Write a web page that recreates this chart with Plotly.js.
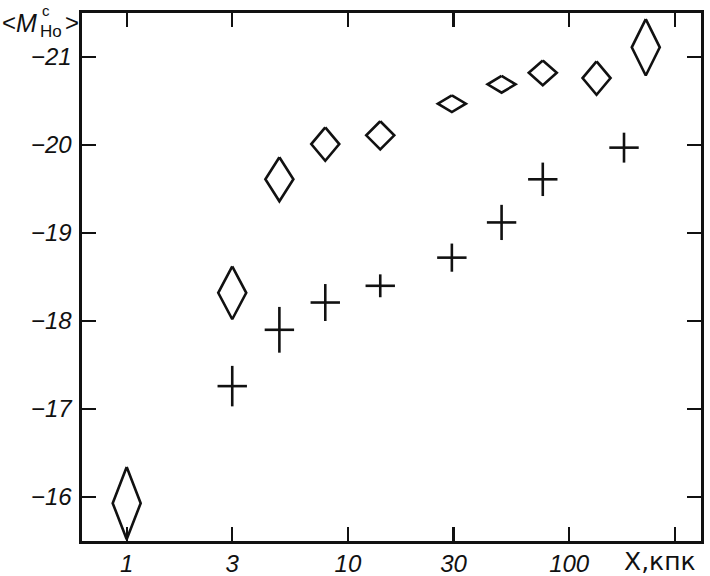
<!DOCTYPE html>
<html>
<head>
<meta charset="utf-8">
<script src="https://cdn.plot.ly/plotly-3.0.1.min.js"></script>
<style>
  html, body { margin: 0; padding: 0; background: #ffffff; }
  #chart { width: 710px; height: 576px; }
</style>
</head>
<body>
<div id="chart"></div>
<script>
// ---- data ----
const diamondX   = [1, 3, 4.9, 7.9, 14, 29.5, 49.5, 76, 133, 222];
const diamondY   = [-15.93, -18.32, -19.61, -20.01, -20.11, -20.47, -20.69, -20.82, -20.76, -21.11];
const diamondErr = [0.41, 0.30, 0.25, 0.19, 0.16, 0.095, 0.096, 0.14, 0.19, 0.32];

const crossX   = [3, 4.9, 7.9, 14, 29.5, 49.5, 76, 177];
const crossY   = [-17.26, -17.90, -18.21, -18.40, -18.72, -19.12, -19.61, -19.97];
const crossErr = [0.23, 0.26, 0.21, 0.13, 0.16, 0.20, 0.19, 0.17];

const xTickVals = [1, 3, 10, 30, 100, 300];
const xTickText = ['<i>1</i>', '<i>3</i>', '<i>10</i>', '<i>30</i>', '<i>100</i>', ''];
const yTickVals = [-21, -20, -19, -18, -17, -16];
const yTickText = ['<i>\u221221</i>', '<i>\u221220</i>', '<i>\u221219</i>', '<i>\u221218</i>', '<i>\u221217</i>', '<i>\u221216</i>'];

// ---- layout geometry ----
const W = 710, H = 576;
const M = {l: 82, r: 9, t: 13, b: 35};
const xRange = [-0.202, 2.596];
const yRange = [-15.5, -21.5];
const plotW = W - M.l - M.r;
const pxPerDecade = plotW / (xRange[1] - xRange[0]);
const diamondHalfPx = 14;
const wDec = diamondHalfPx / pxPerDecade;

// diamond outlines built from the data arrays
const dX = [], dY = [];
diamondX.forEach((x, i) => {
  const y = diamondY[i], e = diamondErr[i];
  const xr = x * Math.pow(10, wDec), xl = x * Math.pow(10, -wDec);
  dX.push(x, xr, x, xl, x, null);
  dY.push(y - e, y, y + e, y, y - e, null);
});

const ink = '#111111';
const FONT = 'Liberation Sans, Arial, sans-serif';

const traces = [
  {
    type: 'scatter', mode: 'lines', x: dX, y: dY,
    line: {color: ink, width: 2.6}, connectgaps: false,
    hoverinfo: 'skip', showlegend: false
  },
  {
    type: 'scatter', mode: 'markers', x: crossX, y: crossY,
    marker: {symbol: 'line-ew', size: 21, color: ink, line: {color: ink, width: 2.6}},
    error_y: {type: 'data', array: crossErr, visible: true, width: 0, thickness: 2.6, color: ink},
    showlegend: false
  }
];

function px2paper(px, py) {
  return {x: (px - M.l) / plotW, y: (H - M.b - py) / (H - M.t - M.b)};
}
function ann(text, px, py, size, family) {
  const p = px2paper(px, py);
  return {
    text: text, xref: 'paper', yref: 'paper', x: p.x, y: p.y,
    xanchor: 'center', yanchor: 'middle', showarrow: false, borderpad: 0,
    font: {family: family || FONT, size: size, color: ink}
  };
}

const annotations = [
  ann('&lt;', 9, 22, 24),
  ann('<i>M</i>', 26, 23, 25),
  ann('c', 46, 10, 15),
  ann('Ho', 51, 31.5, 17),
  ann('&gt;', 72, 22, 24),
  ann('X,кпк', 660, 561, 25, 'DejaVu Sans, Liberation Sans, sans-serif')
];

const axisCommon = {
  showline: true, linecolor: ink, linewidth: 2.6, mirror: 'ticks',
  ticks: 'inside', ticklen: 14, tickwidth: 2.2, tickcolor: ink,
  showgrid: false, zeroline: false,
  tickfont: {family: FONT, size: 24, color: ink}
};

const layout = {
  width: W, height: H,
  margin: M,
  paper_bgcolor: '#ffffff', plot_bgcolor: '#ffffff',
  showlegend: false,
  xaxis: Object.assign({}, axisCommon, {
    type: 'log', range: xRange, tickmode: 'array',
    tickvals: xTickVals, ticktext: xTickText
  }),
  yaxis: Object.assign({}, axisCommon, {
    range: yRange, tickmode: 'array',
    tickvals: yTickVals, ticktext: yTickText,
    ticklabelstandoff: 3
  }),
  annotations: annotations
};

Plotly.newPlot('chart', traces, layout, {displayModeBar: false, staticPlot: true});
</script>
</body>
</html>
